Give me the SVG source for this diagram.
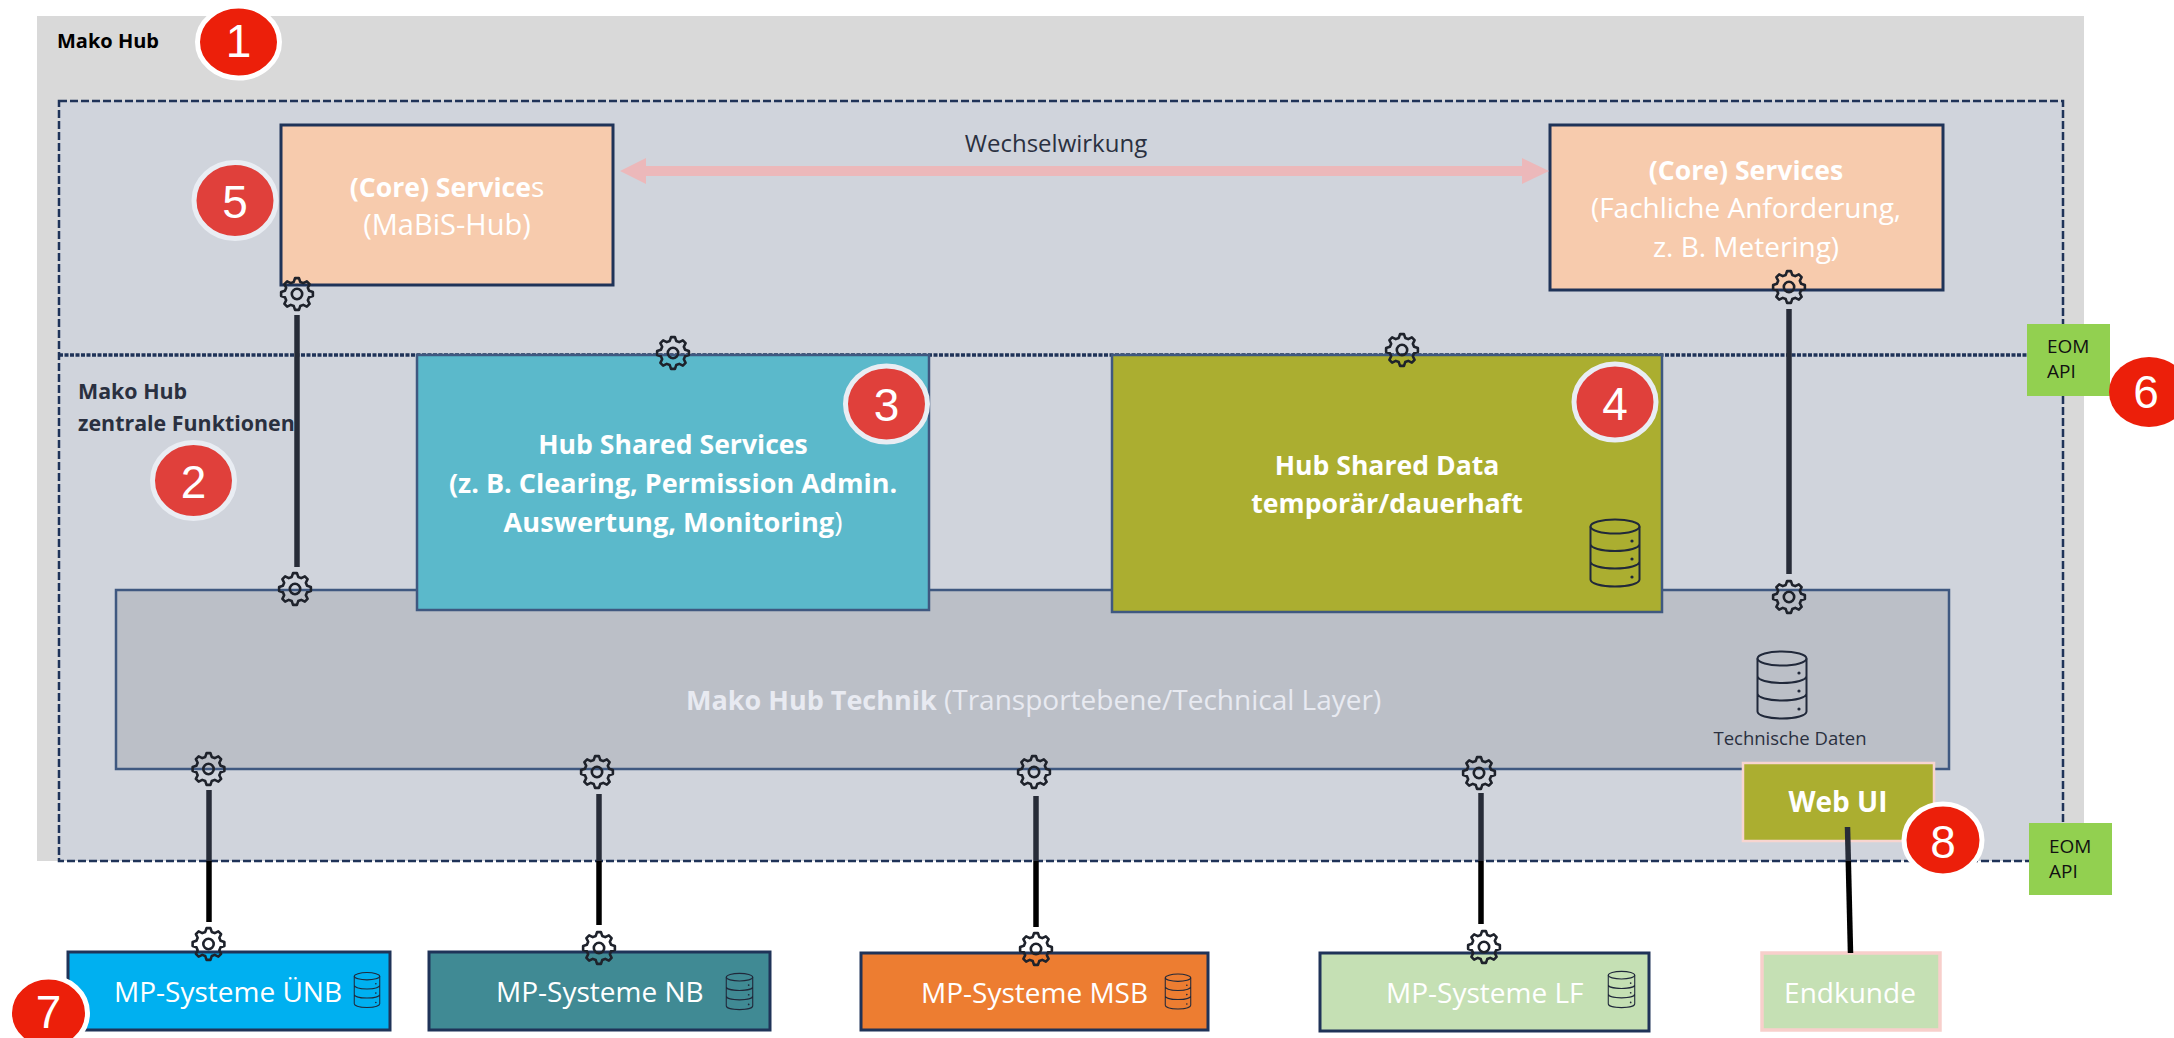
<svg xmlns="http://www.w3.org/2000/svg" width="2174" height="1038" viewBox="0 0 2174 1038">
<style>
text{font-family:"Open Sans","Noto Sans","Liberation Sans",sans-serif}
.c{text-anchor:middle}
.b{font-weight:700;font-size:26.600px}
.w{fill:#fff}
.r{font-size:28px}
.box{stroke:#1f3358;stroke-width:3}
.thin{stroke:#3f5880;stroke-width:2.5}
.conn{fill:none;stroke:url(#cg);stroke-width:5.5}
.bad1{fill:#ec1f0a;stroke:#fff;stroke-width:5}
.bad2{fill:#e0403b;stroke:#e9edf3;stroke-width:5}
.num{font-family:"Liberation Sans",Arial,sans-serif;font-size:46px;fill:#fff;text-anchor:middle}
.api{font-size:19px;fill:#111}
.dash{fill:none;stroke:#1f3358;stroke-width:2.5;stroke-dasharray:8 3}
.dense{fill:none;stroke:#1f3358;stroke-width:3.5;stroke-dasharray:4 1.5}
</style>
<defs>
<linearGradient id="cg" gradientUnits="userSpaceOnUse" x1="0" y1="0" x2="0" y2="1038">
<stop offset="0.8295" stop-color="#272c38"/><stop offset="0.8295" stop-color="#000"/>
</linearGradient>
<symbol id="gear" viewBox="-18 -18 36 36" overflow="visible">
<path fill="none" stroke="#1e222b" stroke-width="2.6" stroke-linejoin="round" d="M-3.24 -12.07L-1.95 -15.88 1.95 -15.88 3.24 -12.07 6.25 -10.83 9.85 -12.61 12.61 -9.85 10.83 -6.25 12.07 -3.24 15.88 -1.95 15.88 1.95 12.07 3.24 10.83 6.25 12.61 9.85 9.85 12.61 6.25 10.83 3.24 12.07 1.95 15.88 -1.95 15.88 -3.24 12.07 -6.25 10.83 -9.85 12.61 -12.61 9.85 -10.83 6.25 -12.07 3.24 -15.88 1.95 -15.88 -1.95 -12.07 -3.24 -10.83 -6.25 -12.61 -9.85 -9.85 -12.61 -6.25 -10.83Z"/>
<circle r="5.2" fill="none" stroke="#1e222b" stroke-width="2.6"/>
</symbol>
<symbol id="db" viewBox="0 0 50 68" overflow="visible">
<g fill="none" stroke="#20283a" stroke-width="2">
<ellipse cx="25" cy="7.5" rx="24.5" ry="7"/>
<path d="M.5 7.5V60.5C.5 64.5 11 67.5 25 67.5S49.5 64.5 49.5 60.5V7.5M.5 25C.5 29 11 32 25 32S49.5 29 49.5 25M.5 42.5C.5 46.5 11 49.5 25 49.5S49.5 46.5 49.5 42.5"/>
</g>
<g fill="#20283a"><circle cx="42" cy="22" r="1.6"/><circle cx="42" cy="40" r="1.6"/><circle cx="42" cy="58" r="1.6"/></g>
</symbol>
</defs>

<g id="mako-hub">
<rect x="37" y="16" width="2047" height="845" fill="#d9d9d9"/>
<text x="57" y="48" font-weight="700" font-size="20" fill="#000">Mako Hub</text>
</g>
<g id="hub-panel">
<rect x="59" y="101" width="2004" height="760" fill="#d0d4dc"/>
<rect x="59" y="101" width="2004" height="760" class="dash"/>
<line x1="59" y1="355" x2="2028" y2="355" class="dense"/>
<text x="78" y="399" font-weight="700" font-size="21.400" fill="#2a3040">Mako Hub</text>
<text x="78" y="431" font-weight="700" font-size="21.400" fill="#2a3040">zentrale Funktionen</text>
</g>

<g id="technik">
<rect x="116" y="590" width="1833" height="179" fill="#bbbfc7" class="thin"/>
<text x="686" y="710" class="r" fill="#e8eaf1"><tspan class="b" style="font-size:27px">Mako Hub Technik</tspan> (Transportebene/Technical Layer)</text>
<use href="#db" x="1757" y="651" width="50" height="68"/>
<text x="1790" y="745" class="c" font-size="18.500" fill="#2a3040">Technische Daten</text>
</g>
<g id="core-mabis">
<rect x="281" y="125" width="332" height="160" fill="#f7cbad" class="box"/>
<text x="447" y="197" class="c r w"><tspan class="b">(Core) Service</tspan>s</text>
<text x="447" y="235" class="c w" font-size="29">(MaBiS-Hub)</text>
</g>
<g id="core-fachlich">
<rect x="1550" y="125" width="393" height="165" fill="#f7cbad" class="box"/>
<text x="1746" y="180" class="c w b">(Core) Services</text>
<text x="1746" y="218" class="c r w">(Fachliche Anforderung,</text>
<text x="1746" y="257" class="c r w">z. B. Metering)</text>
</g>
<g id="shared-services">
<rect x="417" y="355" width="512" height="255" fill="#5bb9cb" class="thin"/>
<text x="673" y="454" class="c w b">Hub Shared Services</text>
<text x="673" y="493" class="c w b" style="font-size:27px">(z. B. Clearing, Permission Admin.</text>
<text x="673" y="532" class="c w r"><tspan class="b" style="font-size:27.200px">Auswertung, Monitoring</tspan>)</text>
</g>
<g id="shared-data">
<rect x="1112" y="355" width="550" height="257" fill="#abae30" class="thin"/>
<text x="1387" y="475" class="c w b">Hub Shared Data</text>
<text x="1387" y="513" class="c w b">temporär/dauerhaft</text>
<use href="#db" x="1590" y="519" width="50" height="68"/>
</g>
<g id="web-ui">
<rect x="1743" y="763" width="191" height="78" fill="#abae30" stroke="#f8d5d0" stroke-width="2.5"/>
<text x="1838" y="812" class="c w b" style="font-size:28px">Web UI</text>
</g>

<g id="mp-uenb">
<rect x="68" y="952" width="322" height="78" fill="#00b0f0" class="box"/>
<text x="114" y="1002" class="r w">MP-Systeme ÜNB</text>
<use href="#db" x="354" y="972" width="26" height="36"/>
</g>
<g id="mp-nb">
<rect x="429" y="952" width="341" height="78" fill="#408a94" class="box"/>
<text x="496" y="1002" class="r w">MP-Systeme NB</text>
<use href="#db" x="726" y="973" width="27" height="37"/>
</g>
<g id="mp-msb">
<rect x="861" y="953" width="347" height="77" fill="#ed7d31" class="box"/>
<text x="921" y="1003" class="r w">MP-Systeme MSB</text>
<use href="#db" x="1165" y="973" width="26" height="37"/>
</g>
<g id="mp-lf">
<rect x="1320" y="953" width="329" height="78" fill="#c5e0b4" class="box"/>
<text x="1386" y="1003" class="r w">MP-Systeme LF</text>
<use href="#db" x="1608" y="971" width="27" height="37"/>
</g>
<g id="endkunde">
<rect x="1762" y="953" width="178" height="77" fill="#c5e0b4" stroke="#f8cfcb" stroke-width="3.500"/>
<text x="1850" y="1003" class="c r w">Endkunde</text>
</g>

<g id="eom-api-top">
<rect x="2027" y="324" width="83" height="72" fill="#92d050"/>
<text x="2047" y="353" class="api">EOM</text>
<text x="2047" y="378" class="api">API</text>
</g>
<g id="eom-api-bottom">
<rect x="2029" y="823" width="83" height="72" fill="#92d050"/>
<text x="2049" y="853" class="api">EOM</text>
<text x="2049" y="878" class="api">API</text>
</g>

<g id="connectors">
<path d="M646 166H1522V158L1549 171 1522 184V176H646V184L620 171 646 158Z" fill="#ecb8ba"/>
<text x="1056" y="152" class="c" font-size="24" fill="#2a3040">Wechselwirkung</text>
<line class="conn" x1="297" y1="315" x2="297" y2="567"/>
<line class="conn" x1="1789" y1="309" x2="1789" y2="574"/>
<line class="conn" x1="209" y1="790" x2="209" y2="922"/>
<line class="conn" x1="599" y1="794" x2="599" y2="925"/>
<line class="conn" x1="1036" y1="796" x2="1036" y2="927"/>
<line class="conn" x1="1481" y1="793" x2="1481" y2="924"/>
<line class="conn" x1="1847.500" y1="827" x2="1850.500" y2="953"/>
</g>

<g id="gears">
<use href="#gear" x="279" y="276" width="36" height="36"/>
<use href="#gear" x="655" y="335" width="36" height="36"/>
<use href="#gear" x="1384" y="332" width="36" height="36"/>
<use href="#gear" x="1771" y="269" width="36" height="36"/>
<use href="#gear" x="277" y="571" width="36" height="36"/>
<use href="#gear" x="1771" y="579" width="36" height="36"/>
<use href="#gear" x="190.500" y="751" width="36" height="36"/>
<use href="#gear" x="579" y="754" width="36" height="36"/>
<use href="#gear" x="1016" y="754" width="36" height="36"/>
<use href="#gear" x="1461" y="755" width="36" height="36"/>
<use href="#gear" x="190.500" y="926" width="36" height="36"/>
<use href="#gear" x="581" y="930" width="36" height="36"/>
<use href="#gear" x="1018" y="931" width="36" height="36"/>
<use href="#gear" x="1466" y="929" width="36" height="36"/>
</g>

<g id="badge-1"><ellipse cx="238.500" cy="42" rx="41" ry="36" class="bad1"/><text x="238.500" y="57" class="num">1</text></g>
<g id="badge-2"><ellipse cx="193.500" cy="480.500" rx="41" ry="38" class="bad2"/><text x="193.500" y="498" class="num">2</text></g>
<g id="badge-3"><ellipse cx="886.500" cy="404" rx="41" ry="38" class="bad2"/><text x="886.500" y="421" class="num">3</text></g>
<g id="badge-4"><ellipse cx="1615" cy="402" rx="41" ry="38" class="bad2"/><text x="1615" y="420" class="num">4</text></g>
<g id="badge-5"><ellipse cx="235" cy="200.500" rx="41" ry="38" class="bad2"/><text x="235" y="218" class="num">5</text></g>
<g id="badge-6"><ellipse cx="2149" cy="392" rx="40" ry="35" fill="#ec1f0a"/><text x="2146" y="408" class="num">6</text></g>
<g id="badge-7"><ellipse cx="48.500" cy="1013" rx="39" ry="36" class="bad1"/><text x="48.500" y="1028" class="num">7</text></g>
<g id="badge-8"><ellipse cx="1943" cy="840" rx="39" ry="36" class="bad1"/><text x="1943" y="858" class="num">8</text></g>
</svg>
